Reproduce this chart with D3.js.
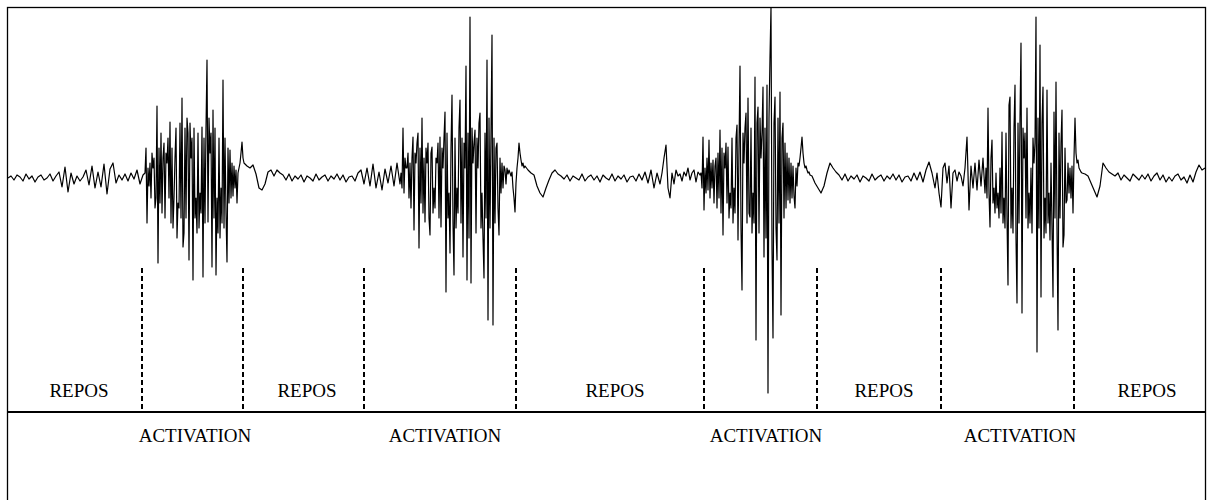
<!DOCTYPE html>
<html>
<head>
<meta charset="utf-8">
<script src="https://cdn.jsdelivr.net/npm/d3@7"></script>
<style>
    body { margin: 0; background: #fff; }
    svg { display: block; }
    .phaseText { font-family: "Liberation Serif", "Times New Roman", serif; font-size: 19px; fill: #000; }
</style>
</head>
<body>
<div id="emg"></div>
<script>
// signal samples, amplitude around rest level (arbitrary units)
// each segment: start time, sampling step, values
var restA = [0,2,-2,3,1,-3,4,-1,2,-4,1,3,-2,0,4,-3,2,6,-9,11,-14,5,-6,2,-3,1,8,-7,12,-10,
    6,-9,14,-16,9,15,-5,3,-2,4,-3,5,-1,8,-6,3];
var burst1 = [5,30,-45,10,-8,15,-20,25,10,20,-30,-20,72,-85,30,-25,45,-35,20,35,
    -40,25,15,40,-20,56,-45,30,-50,-20,20,50,-60,-25,-30,55,-40,80,-69,-55,
    50,-40,60,45,-82,55,20,40,-102,50,-40,-20,-55,45,-50,-15,-35,51,-99,40,
    -45,50,118,-44,60,25,45,-89,68,-40,50,-97,-20,-55,40,-60,-10,-45,98,-50,
    40,-35,-84,30,-25,28,-20,15,-18,12,-10,8,-25,5,10,15,25,36,20,15];
var restB = [12,10,13,4,-10,-12,-6,6,8,2,8,5,3,-2,4,-3,2,-1,3,-4,2,0,-3,4,-2,1,3,-3,2,-1,
    4,-2,3,-4,1,2,-3,5,8,-6,10,-8,14,-10,6,-12,9,-5,12,-8,15,-6];
var burst2 = [5,-10,50,-15,20,10,10,25,-20,15,-30,20,41,-52,25,15,35,45,-70,30,
    -25,60,-35,20,-44,30,15,35,-40,-57,25,31,-35,-10,-30,20,15,35,-40,41,
    -49,30,10,40,66,-114,45,-40,-15,-75,30,83,-45,-97,40,-50,-10,-35,50,78,
    -45,40,-79,35,10,112,-102,45,-60,161,-105,50,15,35,48,-55,40,10,55,65,
    -50,-15,-60,-100,45,-40,118,-142,60,-50,45,143,-147,40,-45,30,35,-30,-57,20,
    -15,15,-10,12,8,-6,10,4,8,5,2,6,-10,-20,-34,-5,10,20,35,25,18,12,15,10,12];
var restC = [8,5,3,-8,-15,-19,-10,-2,5,8,4,2,-1,3,-3,2,0,-2,4,-3,1,3,-2,2,-4,3,0,-2,4,-3,
    2,-1,3,-4,1,2,-3,4,-2,6,-5,8,-10,5,-6];
var pre3 = [5,20,33,-10,-20,5,-6,8,2,4,-3,6,2,10,-2,5,8,-4,6,3];
var burst3 = [5,-10,41,-32,10,-15,20,-12,38,-20,15,-10,18,-25,12,20,-30,25,-20,48,
    -35,30,-57,25,10,35,-25,31,-40,-15,-30,40,-45,-10,-35,40,53,-62,30,112,
    -50,-112,45,15,50,65,-45,80,-35,-39,50,-55,-15,-45,101,-162,55,71,-55,60,
    20,45,91,-79,50,-60,93,-215,60,121,171,-70,-160,55,81,-50,-82,60,-45,86,
    -137,40,55,-40,35,-30,25,-22,20,-25,15,-20,12,-18,-30,10,-8,15,12,20,
    30,41,25,15,10,12,8,5,6,3];
var restD = [2,-5,-10,-15,-8,5,15,10,6,3,-2,4,-3,2,-1,3,-4,2,0,-3,4,-2,1,3,-3,2,-1,4,-2,3,
    -4,1,2,-3,5,-2,6,-4,8,16,5,-10];
var pre4 = [5,-15,-29,10,15,-5,12,-30,5,8,-3,6,2,-8,10,41,-32,12,-10,15,-12,18,-8,20,-15];
var burst4 = [10,-20,70,-15,-49,20,38,-25,-10,-35,5,-30,-15,-40,10,-35,46,-45,-20,-50,
    45,-40,-107,73,81,-50,-10,-55,50,93,-60,-125,55,-45,60,135,-135,50,20,45,
    -40,70,-50,-15,-45,10,-55,40,15,35,161,-174,60,-50,133,-119,55,91,-60,-20,
    -55,88,-45,-15,-62,15,-50,-119,66,-40,96,-50,-152,45,-40,35,68,-69,-57,30,
    -25,-22,15,-15,10,-20,12,-35,20,60,25,15,18,10,8,6,5];
var restE = [4,2,-5,-12,-19,-8,15,10,6,4,2,5,-2,3,0,-3,4,1,-2,3,-1,4,-3,2,5,-2,3,-4,1,-3,
    2,4,-2,1,-5,3,-4,6,13,8,10];

var segmentValues = [restA, burst1, restB, burst2, restC, pre3, burst3, restD, pre4, burst4, restE];
var segmentStart = [0, 137, 239, 393, 520, 654, 693, 804, 929, 978, 1077];
var segmentStep = [3, 1, 3, 1, 3, 2, 1, 3, 2, 1, 3];

// phase boundaries (time) and labels
var boundaries = [134, 235, 356, 508, 696, 809, 933, 1066];
var reposLabel = ["REPOS", "REPOS", "REPOS", "REPOS", "REPOS"];
var reposTime = [71, 299, 607, 876, 1139];
var activationLabel = ["ACTIVATION", "ACTIVATION", "ACTIVATION", "ACTIVATION"];
var activationTime = [187, 437, 758, 1012];

var width = 1209, height = 500;
var frame = { left: 7.5, top: 7.5, right: 1205.5 };
var lineY = 412;     // horizontal separator
var dashTop = 268;

var svg = d3.select("#emg").append("svg")
    .attr("width", width)
    .attr("height", height);

var xScale = d3.scaleLinear()
    .domain([0, 1198])
    .range([8, 1206]);

var yScale = d3.scaleLinear()
    .domain([-200, 200])
    .range([378, -22]);

// flatten the segments into points
var points = [];
segmentValues.forEach(function (vals, s) {
    vals.forEach(function (v, i) {
        points.push({ t: segmentStart[s] + i * segmentStep[s], v: v });
    });
});

svg.append("clipPath").attr("id", "frameClip")
    .append("rect")
    .attr("x", frame.left)
    .attr("y", frame.top)
    .attr("width", frame.right - frame.left)
    .attr("height", height);

var line = d3.line()
    .x(function (d) { return xScale(d.t); })
    .y(function (d) { return yScale(d.v); });

svg.append("path")
    .datum(points)
    .attr("clip-path", "url(#frameClip)")
    .attr("d", line)
    .attr("fill", "none")
    .attr("stroke", "#000")
    .attr("stroke-width", 1.2)
    .attr("stroke-linejoin", "round");

//dashed phase markers
svg.selectAll(".marker")
    .data(boundaries)
    .enter()
    .append("line")
    .attr("class", "marker")
    .attr("x1", function (d) { return xScale(d); })
    .attr("x2", function (d) { return xScale(d); })
    .attr("y1", dashTop)
    .attr("y2", lineY)
    .attr("stroke", "#000")
    .attr("stroke-width", 2)
    .attr("stroke-dasharray", "5,3");

svg.append("line")
    .attr("x1", frame.left)
    .attr("x2", frame.right)
    .attr("y1", lineY)
    .attr("y2", lineY)
    .attr("stroke", "#000")
    .attr("stroke-width", 2);

svg.selectAll(".repos")
    .data(reposTime)
    .enter()
    .append("text")
    .attr("class", "phaseText repos")
    .attr("x", function (d) { return xScale(d); })
    .attr("y", 397)
    .attr("text-anchor", "middle")
    .text(function (d, i) { return reposLabel[i]; });

svg.selectAll(".activation")
    .data(activationTime)
    .enter()
    .append("text")
    .attr("class", "phaseText activation")
    .attr("x", function (d) { return xScale(d); })
    .attr("y", 442)
    .attr("text-anchor", "middle")
    .text(function (d, i) { return activationLabel[i]; });

// outer frame (open at the bottom)
svg.append("rect")
    .attr("x", frame.left)
    .attr("y", frame.top)
    .attr("width", frame.right - frame.left)
    .attr("height", height + 20)
    .attr("fill", "none")
    .attr("stroke", "#000")
    .attr("stroke-width", 1.3);
</script>
</body>
</html>
